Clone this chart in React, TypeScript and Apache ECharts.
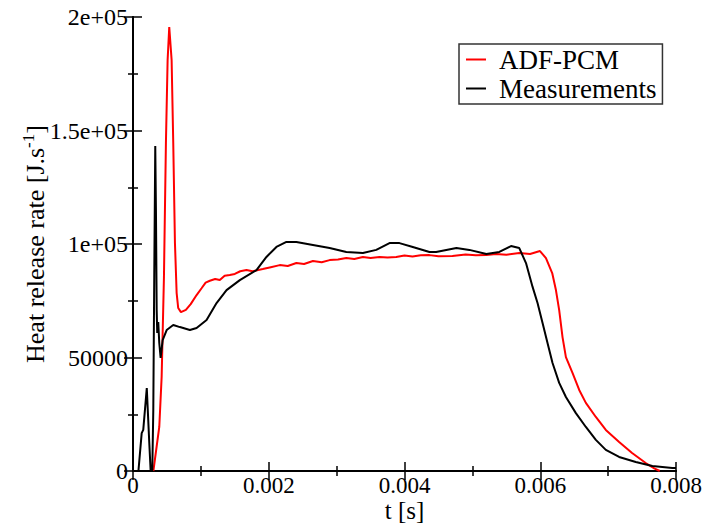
import React, { useEffect, useRef } from "react";
import * as echarts from "echarts";

const seriesNames = ["ADF-PCM", "Measurements"];

const redT = [0.0003, 0.000387, 0.000422, 0.000456, 0.000485, 0.00051, 0.000534, 0.000569, 0.000593, 0.000618, 0.000643, 0.000666, 0.000706, 0.000779, 0.00085, 0.000937, 0.00101, 0.00107, 0.001132, 0.00121, 0.001279, 0.00135, 0.001426, 0.0015, 0.00158, 0.001672, 0.00176, 0.001912, 0.00203, 0.002162, 0.00228, 0.002407, 0.00252, 0.002651, 0.00278, 0.002897, 0.00302, 0.003143, 0.00326, 0.003387, 0.0035, 0.003632, 0.00375, 0.003878, 0.004, 0.004118, 0.00424, 0.004368, 0.0045, 0.004706, 0.0049, 0.00505, 0.005206, 0.00535, 0.0055, 0.005691, 0.00585, 0.005996, 0.006084, 0.006176, 0.006231, 0.006279, 0.006328, 0.006378, 0.006475, 0.006574, 0.006672, 0.006819, 0.006966, 0.007162, 0.007353, 0.007554, 0.00768, 0.00776];
const redV = [0, 19400, 41400, 85500, 144500, 181000, 195600, 181000, 144500, 100400, 78400, 71800, 70000, 71000, 73500, 77500, 80500, 83000, 83800, 84600, 84100, 86000, 86300, 86800, 88000, 88500, 88000, 89000, 89800, 90700, 90300, 91600, 91200, 92500, 92000, 92900, 93200, 93800, 93400, 94300, 93800, 94300, 94000, 94300, 94900, 94500, 95000, 95100, 94600, 94700, 95400, 95000, 95100, 95600, 95300, 96000, 95600, 96900, 93800, 87200, 79700, 70900, 59000, 50200, 43200, 35700, 30000, 23800, 18100, 12800, 7900, 3500, 1200, 0];

const blackT = [0.00008, 0.000128, 0.000151, 0.000203, 0.00024, 0.00026, 0.000284, 0.000299, 0.000313, 0.000328, 0.000338, 0.000349, 0.000357, 0.000372, 0.000387, 0.000407, 0.000437, 0.000496, 0.000593, 0.000691, 0.000838, 0.000937, 0.001084, 0.001231, 0.001378, 0.001574, 0.001819, 0.001966, 0.002113, 0.00226, 0.002407, 0.002651, 0.002897, 0.003143, 0.003387, 0.003584, 0.003779, 0.003926, 0.004122, 0.004368, 0.004466, 0.004765, 0.004956, 0.005206, 0.005397, 0.005569, 0.005691, 0.00579, 0.005887, 0.00596, 0.006034, 0.006107, 0.006181, 0.006279, 0.006378, 0.006525, 0.006672, 0.006819, 0.006966, 0.007162, 0.007407, 0.007652, 0.007946, 0.008];
const blackV = [0, 16700, 18100, 36500, 12300, 0, 0, 26900, 85500, 143200, 115000, 70900, 60800, 65600, 56400, 49800, 57700, 62100, 64300, 63400, 62100, 63000, 66500, 74000, 79700, 84100, 88500, 94300, 98700, 100900, 100900, 99600, 98200, 96500, 96000, 97400, 100400, 100400, 98700, 96500, 96500, 98200, 97400, 95600, 96500, 99100, 98200, 91600, 81100, 74000, 65200, 56400, 47600, 38800, 32600, 25500, 19400, 13700, 9300, 6200, 4000, 2200, 1300, 1300];

const xTicks = { min: 0, max: 0.008, interval: 0.002 };
const yTicks = { min: 0, max: 200000, interval: 50000 };

const FONT = "Liberation Serif";

function yFmt(v: number): string {
  if (v === 0) return "0";
  if (v >= 100000) return String(Math.round((v / 100000) * 10) / 10) + "e+05";
  return String(v);
}
function xFmt(v: number): string {
  if (v === 0) return "0";
  return v.toFixed(3);
}

export default function App() {
  const ref = useRef<HTMLDivElement>(null);
  useEffect(() => {
    if (!ref.current) return;
    const chart = echarts.init(ref.current, null, { renderer: "svg" });
    const lineAxis = { show: true, lineStyle: { color: "#000", width: 2 } };
    const tick = { show: true, inside: true, length: 9, lineStyle: { color: "#000", width: 1.5 } };
    const minor = { show: true, splitNumber: 2, length: 5, lineStyle: { color: "#000", width: 1.5 } };
    chart.setOption({
      animation: false,
      backgroundColor: "#fff",
      grid: { left: 133, top: 17, right: 28, bottom: 53, containLabel: false, outerBoundsMode: "none" },
      legend: {
        orient: "vertical",
        left: 459,
        top: 44,
        data: seriesNames,
        icon: "rect",
        itemWidth: 20,
        itemHeight: 2,
        itemGap: 2,
        itemTextGap: 13,
        padding: [2, 6, 2, 7],
        borderColor: "#333",
        borderWidth: 1.5,
        backgroundColor: "#fff",
        textStyle: { fontFamily: FONT, fontSize: 27, color: "#000", lineHeight: 24, padding: [0, 0, 0, 8] },
      },
      xAxis: [
        {
          type: "value",
          ...xTicks,
          position: "bottom",
          axisLine: lineAxis,
          axisTick: tick,
          minorTick: minor,
          splitLine: { show: false },
          axisLabel: { formatter: xFmt, fontFamily: FONT, fontSize: 23, color: "#000", margin: 6, lineHeight: 17 },
          name: "t [s]",
          nameLocation: "middle",
          nameGap: 29,
          nameMoveOverlap: false,
          nameTextStyle: { fontFamily: FONT, fontSize: 25, color: "#000", lineHeight: 20 },
        },
        {
          type: "value",
          ...xTicks,
          position: "top",
          axisLine: lineAxis,
          axisTick: tick,
          minorTick: minor,
          splitLine: { show: false },
          axisLabel: { show: false },
        },
      ],
      yAxis: [
        {
          type: "value",
          ...yTicks,
          position: "left",
          axisLine: lineAxis,
          axisTick: tick,
          minorTick: minor,
          splitLine: { show: false },
          axisLabel: { formatter: yFmt, fontFamily: FONT, fontSize: 24, color: "#000", margin: 5 },
          name: "Heat release rate [J.s{sup|-1}]",
          nameLocation: "middle",
          nameRotate: 90,
          nameGap: 82,
          nameMoveOverlap: false,
          nameTextStyle: {
            fontFamily: FONT,
            fontSize: 26,
            color: "#000",
            rich: { sup: { fontFamily: FONT, fontSize: 17, color: "#000", padding: [0, 0, 14, 0] } },
          },
        },
        {
          type: "value",
          ...yTicks,
          position: "right",
          axisLine: lineAxis,
          axisTick: tick,
          minorTick: minor,
          splitLine: { show: false },
          axisLabel: { show: false },
        },
      ],
      series: [
        {
          name: seriesNames[0],
          type: "line",
          showSymbol: false,
          color: "#ff0000",
          lineStyle: { color: "#ff0000", width: 2 },
          data: redT.map((t, i) => [t, redV[i]]),
        },
        {
          name: seriesNames[1],
          type: "line",
          showSymbol: false,
          color: "#000000",
          lineStyle: { color: "#000000", width: 2 },
          data: blackT.map((t, i) => [t, blackV[i]]),
        },
      ],
    });
    return () => chart.dispose();
  }, []);
  return <div ref={ref} style={{ position: "fixed", left: 0, top: 0, width: 704, height: 524 }} />;
}
